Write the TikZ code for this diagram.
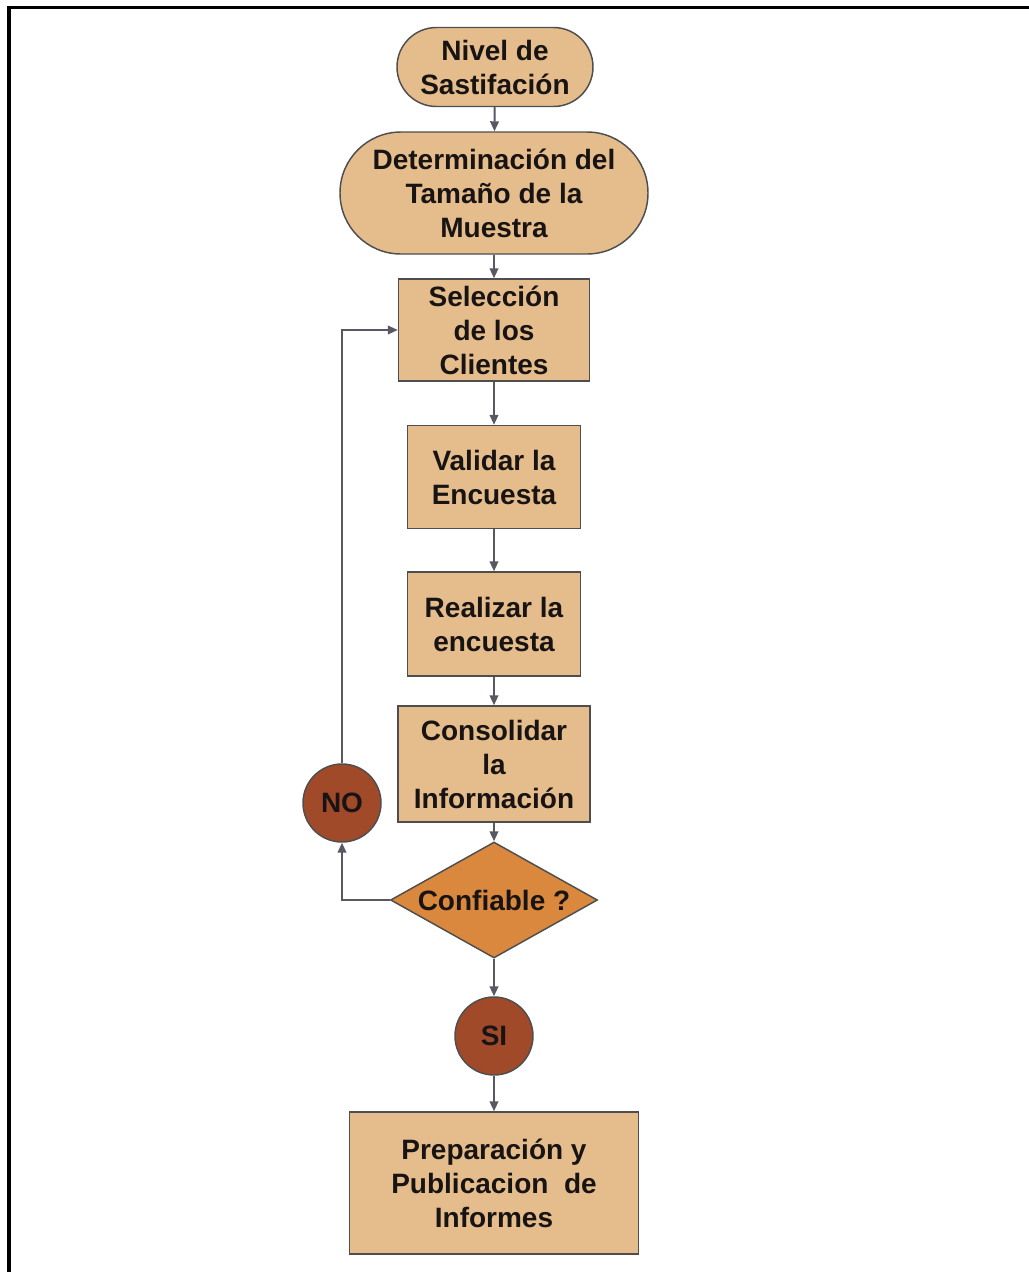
\documentclass[tikz,border=0pt]{standalone}
\usepackage{fontspec}
\setmainfont{Liberation Sans}
\usetikzlibrary{shapes.geometric,arrows.meta}
\definecolor{boxfill}{RGB}{229,189,140}
\definecolor{diafill}{RGB}{217,136,62}
\definecolor{circfill}{RGB}{160,74,42}
\definecolor{edgegray}{RGB}{78,78,78}
\definecolor{linegray}{RGB}{88,88,98}
\definecolor{txt}{RGB}{25,20,20}
\begin{document}
\begin{tikzpicture}[x=0.75pt,y=-0.75pt,
  base/.style={draw=edgegray,line width=1.1pt,inner sep=0pt,align=center,
    text=txt,font=\fontsize{21}{25.5}\selectfont\bfseries},
  stadium/.style={base,fill=boxfill,rectangle},
  procbox/.style={base,fill=boxfill,rectangle},
  decision/.style={base,fill=diafill,diamond},
  answer/.style={base,fill=circfill,circle,minimum size=58.5pt},
  arr/.style={draw=linegray,line width=1.4pt,-{Triangle[length=7.5pt,width=6.5pt]}}]
\useasboundingbox (0,0) rectangle (1029,1272);
% outer frame
\draw[black,line width=2.4pt] (9,1272) -- (9,7.5) -- (1029,7.5);

% flow steps
\node[stadium,minimum width=147pt,minimum height=59.25pt,rounded corners=29.6pt]
  (niv) at (495,67) {Nivel de\\Sastifación};
\node[stadium,minimum width=231pt,minimum height=91.5pt,rounded corners=45.7pt]
  (det) at (494,193) {Determinación del\\Tamaño de la\\Muestra};
\node[procbox,minimum width=143.25pt,minimum height=76.5pt]
  (sel) at (494,330) {Selección\\de los\\Clientes};
\node[procbox,minimum width=129.75pt,minimum height=77.25pt]
  (val) at (494,477) {Validar la\\Encuesta};
\node[procbox,minimum width=129.75pt,minimum height=78pt]
  (rea) at (494,624) {Realizar la\\encuesta};
\node[procbox,minimum width=144pt,minimum height=87pt]
  (con) at (494,764) {Consolidar\\la\\Información};
\node[decision,minimum width=155.25pt,minimum height=87pt]
  (conf) at (494,900) {};
\node[base,draw=none] (conft) at (494,900) {Confiable ?};
\node[answer] (si) at (494,1036) {SI};
\node[answer] (no) at (342,803) {NO};
\node[procbox,minimum width=216.75pt,minimum height=106.5pt]
  (pre) at (494,1183) {Preparación y\\Publicacion~ de\\Informes};

% connectors
\draw[arr] (niv) -- (det);
\draw[arr] (det) -- (sel);
\draw[arr] (sel) -- (val);
\draw[arr] (val) -- (rea);
\draw[arr] (rea) -- (con);
\draw[arr] (con) -- (conf);
\draw[arr] (conf) -- (si);
\draw[arr] (si) -- (pre);
\draw[arr] (conf.west) -| (no.south);
\draw[arr] (no.north) |- (sel.west);
\end{tikzpicture}
\end{document}
